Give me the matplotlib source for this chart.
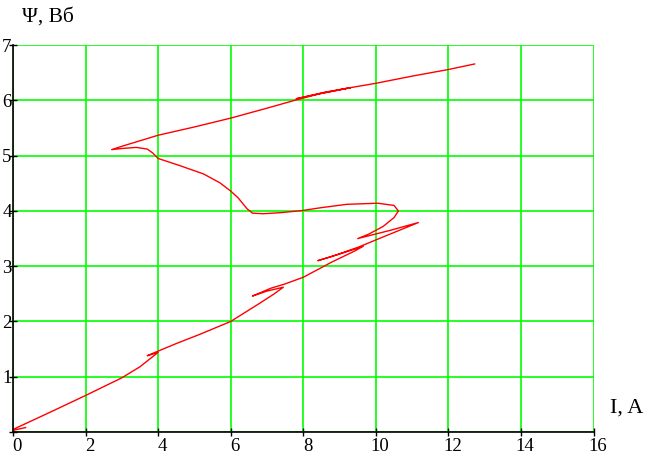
import matplotlib.pyplot as plt
from matplotlib.transforms import ScaledTranslation

# flux linkage vs current
current_a = [0.35, 0.0, 0.05, 1.0, 2.0, 3.0, 3.5, 4.0, 3.7, 3.95, 4.5, 5.16,
             6.0, 6.8, 7.2, 7.45, 7.0, 6.6, 7.1, 7.5, 8.0, 8.8, 9.4, 9.65,
             9.0, 8.4, 8.8, 9.5, 10.2, 11.17, 10.4, 9.5, 9.8, 10.2, 10.5,
             10.62, 10.5, 10.05, 9.2, 8.5, 8.0, 7.4, 6.9, 6.6, 6.45, 6.2,
             6.0, 5.7, 5.25, 4.6, 4.0, 3.85, 3.7, 3.4, 3.0, 2.72, 3.0, 4.0,
             5.0, 6.0, 7.0, 7.7, 8.5, 9.3, 8.3, 7.8, 8.6, 9.2, 10.0, 11.0,
             12.0, 12.72]
flux_wb = [0.08, 0.03, 0.06, 0.35, 0.66, 0.98, 1.18, 1.44, 1.38, 1.45, 1.60,
           1.77, 2.0, 2.33, 2.50, 2.62, 2.55, 2.46, 2.60, 2.68, 2.8, 3.08,
           3.27, 3.36, 3.22, 3.10, 3.18, 3.34, 3.53, 3.79, 3.65, 3.50, 3.58,
           3.72, 3.88, 4.0, 4.1, 4.14, 4.12, 4.06, 4.01, 3.97, 3.95, 3.96,
           4.04, 4.24, 4.36, 4.51, 4.67, 4.82, 4.95, 5.05, 5.12, 5.15, 5.13,
           5.11, 5.17, 5.37, 5.52, 5.68, 5.86, 5.99, 6.13, 6.23, 6.10, 6.03,
           6.15, 6.22, 6.31, 6.44, 6.56, 6.66]

x_ticks = [0, 2, 4, 6, 8, 10, 12, 14, 16]
y_ticks = [0, 1, 2, 3, 4, 5, 6, 7]
y_labels = ['', '1', '2', '3', '4', '5', '6', '7']

plt.rcParams['font.family'] = ['Liberation Serif', 'DejaVu Serif']

fig = plt.figure(figsize=(6.46, 4.54), dpi=100)
ax = fig.add_axes([0.020, 0.0485, 0.899, 0.852])

ax.plot(current_a, flux_wb, color='#ff0000', lw=1.0, zorder=3)

ax.set_xlim(0, 16)
ax.set_ylim(0, 7)
ax.set_xticks(x_ticks)
ax.set_yticks(y_ticks)
ax.set_yticklabels(y_labels)
ax.grid(True, color='#00ff00', lw=1.2)
ax.set_axisbelow(True)

for side in ['top', 'right']:
    ax.spines[side].set_visible(False)
for side in ['left', 'bottom']:
    ax.spines[side].set_linewidth(1.2)
    ax.spines[side].set_zorder(4)

ax.tick_params(direction='inout', length=6, width=1.0, labelsize=13.5, pad=1)
ax.tick_params(axis='y', pad=-2)

# labels sit a little right of their ticks in the original
shift = ScaledTranslation(3 / 72, 0, fig.dpi_scale_trans)
for lbl in ax.get_xticklabels():
    lbl.set_transform(lbl.get_transform() + shift)

fig.text(0.034, 0.962, 'Ψ, Вб', fontsize=15.5, va='center', ha='left')
fig.text(0.944, 0.101, 'I, A', fontsize=16, va='center', ha='left')

fig.savefig('out.png', dpi=100)
